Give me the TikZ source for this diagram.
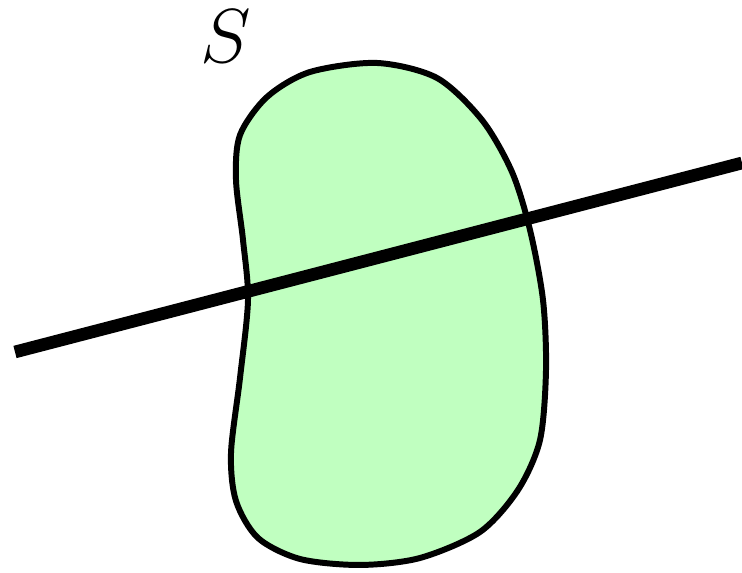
\documentclass[tikz,border=0pt]{standalone}
\usepackage{amsmath, amssymb}
\usepackage{xcolor}
\usepackage{tikz}

\definecolor{blobgreen}{RGB}{192,255,192}

\begin{document}
\begin{tikzpicture}
    % Frame
    \useasboundingbox (0,0) rectangle (7.42,5.73);

    % The region S
    \filldraw[blobgreen, draw=black, line width=1.7pt] plot[smooth cycle, tension=0.5] coordinates {
        (3.77,5.10) (4.37,4.95) (4.82,4.53) (5.12,4.01) (5.30,3.43) (5.43,2.73)
        (5.46,2.03) (5.40,1.33) (5.18,0.83) (4.80,0.41) (4.20,0.15) (3.60,0.08)
        (3.00,0.14) (2.58,0.35) (2.36,0.72) (2.31,1.20) (2.40,1.95) (2.48,2.73)
        (2.43,3.33) (2.36,3.93) (2.40,4.38) (2.67,4.76) (3.10,5.01)};
    \node[font=\huge, scale=1.05] (S) at (2.26,5.37) {$S$};

    % The line through S
    \coordinate (lineStart) at (0.15,2.21);
    \coordinate (lineEnd) at (7.42,4.10);
    \draw[line width=3.6pt] (lineStart) -- (lineEnd);

\end{tikzpicture}
\end{document}
